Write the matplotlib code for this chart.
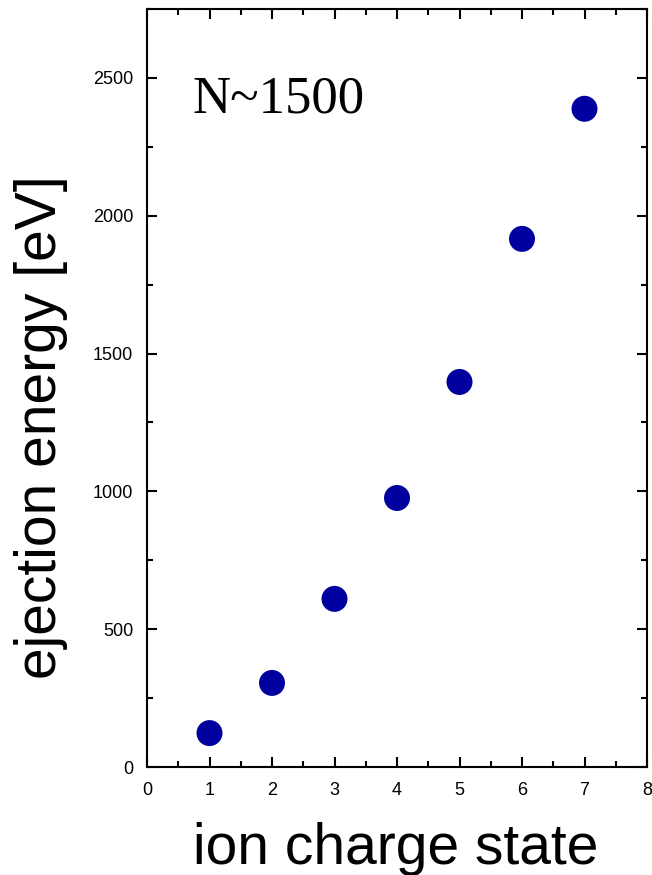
import numpy as np
import matplotlib.pyplot as plt
from matplotlib.ticker import MultipleLocator

charge = [1, 2, 3, 4, 5, 6, 7]
energy = [123, 305, 610, 976, 1397, 1916, 2388]

plt.rcParams['font.family'] = ['Liberation Sans', 'DejaVu Sans']

fig = plt.figure(figsize=(6.52, 8.75), dpi=100)
ax = fig.add_axes([147 / 652, 1 - 767 / 875, 500 / 652, 758 / 875])

ax.scatter(charge, energy, s=350, color="#00009e", edgecolors="none", zorder=3)

ax.set_xlim(0, 8)
ax.set_ylim(0, 2750)
ax.xaxis.set_major_locator(MultipleLocator(1))
ax.xaxis.set_minor_locator(MultipleLocator(0.5))
ax.yaxis.set_major_locator(MultipleLocator(500))
ax.yaxis.set_minor_locator(MultipleLocator(250))

ax.tick_params(which="both", direction="in", top=True, right=True, width=1.5, labelsize=13)
ax.tick_params(which="major", length=7.5)
ax.tick_params(which="minor", length=4)
ax.tick_params(axis="x", pad=10.5)
ax.tick_params(axis="y", pad=10)
for sp in ax.spines.values():
    sp.set_linewidth(1.5)

# axis titles placed in figure pixels
fig.text(396 / 652, 1 - 849 / 875, "ion charge state", fontsize=41, ha="center", va="center")
fig.text(41 / 652, 1 - 427 / 875, "ejection energy [eV]", fontsize=41, ha="center", va="center",
         rotation=90)

ax.text(0.09, 0.863, "N~1500", transform=ax.transAxes, fontsize=38,
        family="Liberation Serif", va="baseline", ha="left")

fig.savefig("out.png", dpi=100)
